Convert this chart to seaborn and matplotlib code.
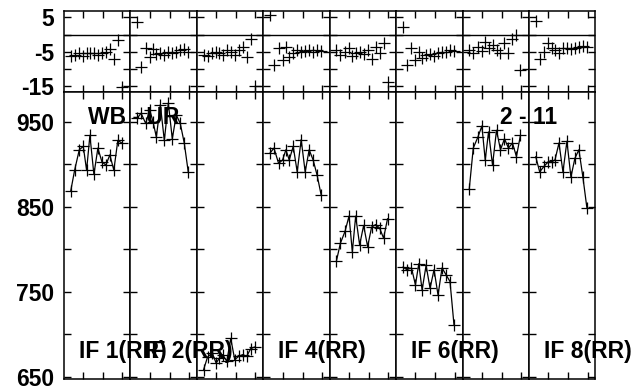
import numpy as np
import pandas as pd
import matplotlib
matplotlib.use("Agg")
import matplotlib.pyplot as plt
import seaborn as sns

# ---- data ----
times = [0.10, 0.16, 0.23, 0.29, 0.34, 0.39, 0.45, 0.51, 0.57, 0.63, 0.69, 0.75, 0.81, 0.87]
if_names = ["IF 1", "IF 2", "IF 3", "IF 4", "IF 5", "IF 6", "IF 7", "IF 8"]

amp_if1 = [868, 893, 917, 921, 893, 934, 888, 919, 903, 899, 911, 893, 928, 925]
amp_if2 = [954, 960, 948, 964, 950, 932, 970, 928, 972, 930, 958, 948, 925, 891]
amp_if3 = [658, 673, 678, 666, 672, 676, 668, 695, 670, 674, 676, 674, 683, 685]
amp_if4 = [913, 919, 901, 905, 917, 905, 921, 891, 929, 891, 917, 905, 887, 864]
amp_if5 = [786, 807, 821, 839, 797, 839, 805, 828, 803, 826, 829, 825, 813, 836]
amp_if6 = [779, 776, 778, 758, 783, 752, 781, 754, 776, 746, 778, 770, 762, 711]
amp_if7 = [871, 919, 932, 945, 905, 938, 899, 940, 917, 930, 919, 925, 909, 934]
amp_if8 = [909, 891, 898, 903, 903, 905, 925, 891, 927, 885, 907, 917, 885, 849]

ph_if1 = [-6.3, -6.0, -5.5, -6.2, -5.5, -5.3, -5.5, -6.0, -5.5, -5.0, -4.3, -7.0, -1.6, -15.4]
ph_if2 = [3.7, -9.4, -4.0, -6.5, -4.2, -5.8, -5.5, -6.0, -5.2, -5.5, -5.0, -4.5, -4.3, -5.0]
ph_if3 = [-6.0, -6.4, -5.5, -5.0, -5.5, -6.0, -4.5, -5.2, -6.0, -4.5, -3.6, -6.7, -1.4, -15.0]
ph_if4 = [5.7, -8.9, -4.0, -7.3, -3.6, -6.5, -5.5, -4.5, -5.0, -4.8, -4.5, -5.0, -4.6, -4.8]
ph_if5 = [-4.5, -6.0, -5.0, -4.0, -6.2, -5.5, -5.0, -5.8, -4.5, -7.0, -3.6, -5.5, -2.4, -13.8]
ph_if6 = [2.1, -8.9, -4.0, -7.3, -5.0, -6.8, -6.0, -5.6, -6.2, -5.5, -5.2, -5.0, -4.6, -4.8]
ph_if7 = [-4.5, -5.5, -3.6, -4.8, -2.1, -3.8, -3.0, -4.5, -5.5, -2.6, -5.5, -1.4, -0.1, -10.4]
ph_if8 = [4.0, -7.0, -5.0, -2.6, -4.0, -4.5, -5.5, -4.0, -3.8, -4.2, -3.8, -3.6, -3.4, -3.5]

amps = [amp_if1, amp_if2, amp_if3, amp_if4, amp_if5, amp_if6, amp_if7, amp_if8]
phases = [ph_if1, ph_if2, ph_if3, ph_if4, ph_if5, ph_if6, ph_if7, ph_if8]

top_ticks = [5, 0, -5, -10, -15]
top_ticklabels = ["5", "", "-5", "", "-15"]
bot_ticks = [950, 900, 850, 800, 750, 700, 650]
bot_ticklabels = ["950", "", "850", "", "750", "", "650"]
x_ticks = [0.29, 0.59, 0.88]

shown_labels = {0: "IF 1(RR)", 1: "IF 2(RR)", 3: "IF 4(RR)", 5: "IF 6(RR)", 7: "IF 8(RR)"}
baseline_labels = {0: "WB - UR", 6: "2 - 11"}

rows = []
for name, a, p in zip(if_names, amps, phases):
    for t, av, pv in zip(times, a, p):
        rows.append({"IF": name, "time": t, "amp": av, "phase": pv})
df = pd.DataFrame(rows)

# ---- figure ----
sns.set_style("white")
plt.rcParams["font.family"] = ["Liberation Sans", "DejaVu Sans"]
plt.rcParams["font.weight"] = "bold"
plt.rcParams["text.color"] = "black"
plt.rcParams["xtick.color"] = "black"
plt.rcParams["ytick.color"] = "black"
plt.rcParams["axes.labelcolor"] = "black"

fig = plt.figure(figsize=(6.36, 3.87), dpi=100)
L, R = 64 / 636, 595.5 / 636
gs = fig.add_gridspec(2, 8, left=L, right=R, top=1 - 11 / 387,
                      bottom=1 - 379 / 387, wspace=0, hspace=0, height_ratios=[81, 287])
pw = (R - L) / 8

FS = 16.5
for i, name in enumerate(if_names):
    sub = df[df["IF"] == name]
    axt = fig.add_subplot(gs[0, i])
    axb = fig.add_subplot(gs[1, i])

    axt.axhline(0, color="black", lw=1.0, zorder=1)
    sns.scatterplot(data=sub, x="time", y="phase", ax=axt, marker="+", s=64,
                    color="black", linewidth=0.9, legend=False, zorder=3)
    sns.lineplot(data=sub, x="time", y="amp", ax=axb, color="black", marker="+",
                 markersize=8, markeredgewidth=0.9, markeredgecolor="black",
                 markerfacecolor="black", linewidth=0.9,
                 estimator=None, sort=False, legend=False)

    axt.set_ylim(-16.8, 6.9)
    axb.set_ylim(647.3, 985)
    for ax in (axt, axb):
        ax.set_xlim(0, 1)
        ax.set_xticks(x_ticks)
        ax.set_xticklabels([])
        ax.set_xlabel("")
        ax.set_ylabel("")
        ax.tick_params(direction="in", which="both", left=True, right=True,
                       top=True, bottom=True, length=5, width=1.0, color="black",
                       labelcolor="black", labelsize=FS, pad=7)
        for sp in ax.spines.values():
            sp.set_color("black")
            sp.set_linewidth(1.1)
    axt.set_yticks(top_ticks)
    axb.set_yticks(bot_ticks)
    if i == 0:
        axt.set_yticklabels(top_ticklabels, fontweight="bold", color="black")
        axb.set_yticklabels(bot_ticklabels, fontweight="bold", color="black")
    else:
        axt.set_yticklabels([])
        axb.set_yticklabels([])

    if i in shown_labels:
        fig.text(L + i * pw + 15 / 636, 1 - 358 / 387, shown_labels[i], color="black",
                 fontsize=FS, fontweight="bold", ha="left", va="baseline", zorder=10)
    if i in baseline_labels:
        off = 24 if i == 0 else 37
        fig.text(L + i * pw + off / 636, 1 - 124.5 / 387, baseline_labels[i], color="black",
                 fontsize=FS, fontweight="bold", ha="left", va="baseline", zorder=10)

fig.savefig("out.png", dpi=100)
